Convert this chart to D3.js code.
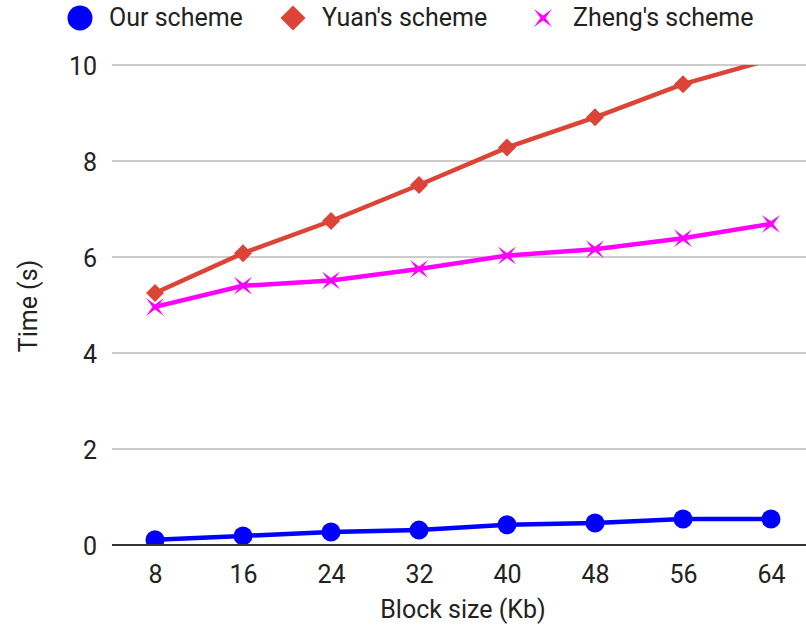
<!DOCTYPE html>
<html>
<head>
<meta charset="utf-8">
<script src="https://cdnjs.cloudflare.com/ajax/libs/d3/7.8.5/d3.min.js"></script>
<style>
  html, body { margin: 0; padding: 0; background: #fff; }
  svg { display: block; font-family: Roboto, "Noto Sans", sans-serif; }
</style>
</head>
<body>
<svg id="chart" width="806" height="632"></svg>
<script>
// Block sizes (Kb) on the x axis
const blockSizes = ["8", "16", "24", "32", "40", "48", "56", "64"];
// Computation time (s) for each scheme
const ourScheme   = [0.11, 0.19, 0.27, 0.31, 0.42, 0.46, 0.54, 0.54];
const yuanScheme  = [5.25, 6.08, 6.75, 7.50, 8.28, 8.91, 9.60, 10.12];
const zhengScheme = [4.96, 5.40, 5.51, 5.75, 6.03, 6.16, 6.39, 6.69];
const yTicks = [0, 2, 4, 6, 8, 10];

const seriesNames  = ["Our scheme", "Yuan's scheme", "Zheng's scheme"];
const seriesColors = ["#0000ff", "#db4437", "#ff00ff"];
const seriesShapes = ["circle", "diamond", "star"];
const seriesValues = [ourScheme, yuanScheme, zhengScheme];

const series = seriesNames.map((name, i) => ({
  name, color: seriesColors[i], shape: seriesShapes[i], values: seriesValues[i]
}));

const FONT = 25;
const svg = d3.select("#chart");
const plot = { left: 112, right: 806, top: 65, bottom: 545 };

const x = d3.scalePoint().domain(blockSizes).range([155, 771]);
const y = d3.scaleLinear().domain([0, 10]).range([plot.bottom, plot.top]);

// Marker path generators
function markerPath(shape, s) {
  if (shape === "circle") {
    return d3.symbol().type(d3.symbolCircle).size(Math.PI * s * s)();
  }
  if (shape === "diamond") {
    return `M0,${-s}L${s},0L0,${s}L${-s},0Z`;
  }
  // four-pointed star with its tips on the diagonals
  const pts = [];
  const inner = s * 0.28;
  for (let k = 0; k < 8; k++) {
    const a = Math.PI / 4 + k * Math.PI / 4;
    const r = k % 2 === 0 ? s * Math.SQRT2 : inner;
    pts.push([r * Math.cos(a), r * Math.sin(a)]);
  }
  return "M" + pts.map(p => p.join(",")).join("L") + "Z";
}

// Clip area for lines and markers
svg.append("defs").append("clipPath").attr("id", "plotClip")
  .append("rect")
  .attr("x", plot.left).attr("y", plot.top)
  .attr("width", plot.right - plot.left)
  .attr("height", plot.bottom - plot.top);

// Horizontal gridlines
svg.append("g")
  .selectAll("line")
  .data(yTicks.filter(t => t !== 0))
  .join("line")
  .attr("x1", plot.left).attr("x2", plot.right)
  .attr("y1", d => y(d)).attr("y2", d => y(d))
  .attr("stroke", "#cccccc").attr("stroke-width", 2);

// Y axis tick labels
const yAxis = d3.axisLeft(y).tickValues(yTicks).tickSize(0).tickPadding(0);
const gy = svg.append("g").attr("transform", `translate(97,0)`).call(yAxis);
gy.select(".domain").remove();
gy.selectAll("text")
  .attr("font-size", FONT).attr("fill", "#222")
  .attr("font-family", "Roboto, sans-serif")
  .attr("dy", "0.36em");

// X axis tick labels
const xAxis = d3.axisBottom(x).tickSize(0).tickPadding(0);
const gx = svg.append("g").attr("transform", `translate(0,565)`).call(xAxis);
gx.select(".domain").remove();
gx.selectAll("text")
  .attr("font-size", FONT).attr("fill", "#222")
  .attr("font-family", "Roboto, sans-serif")
  .attr("dy", "0.71em");

// Series lines and markers
const lineGen = (vals) => d3.line()
  .x((d, i) => x(blockSizes[i]))
  .y(d => y(d))(vals);

const layer = svg.append("g").attr("clip-path", "url(#plotClip)");

// draw Zheng's, Yuan's, then ours on top
[2, 1, 0].forEach(si => {
  const s = series[si];
  layer.append("path")
    .attr("d", lineGen(s.values))
    .attr("fill", "none")
    .attr("stroke", s.color)
    .attr("stroke-width", 4.5)
    .attr("stroke-linejoin", "round");
  layer.append("g")
    .selectAll("path")
    .data(s.values.map((v, i) => ({ v, k: blockSizes[i] })).filter(d => d.v <= 10))
    .join("path")
    .attr("transform", d => `translate(${x(d.k)},${y(d.v)})`)
    .attr("d", markerPath(s.shape, s.shape === "circle" ? 9.5 : 9))
    .attr("fill", s.color);
});

// Zero baseline
svg.append("line")
  .attr("x1", plot.left).attr("x2", plot.right)
  .attr("y1", y(0)).attr("y2", y(0))
  .attr("stroke", "#333333").attr("stroke-width", 2);

// Axis titles
svg.append("text")
  .attr("x", 463).attr("y", 611)
  .attr("text-anchor", "middle").attr("dominant-baseline", "middle")
  .attr("font-size", FONT).attr("fill", "#222")
  .text("Block size (Kb)");

svg.append("text")
  .attr("transform", "translate(30,306) rotate(-90)")
  .attr("text-anchor", "middle").attr("dominant-baseline", "middle")
  .attr("font-size", FONT).attr("fill", "#222")
  .text("Time (s)");

// Legend
const legendX = [80, 293, 543];
const legendSize = [12.5, 12.5, 9];
const legend = svg.append("g");
series.forEach((s, i) => {
  legend.append("path")
    .attr("transform", `translate(${legendX[i]},18)`)
    .attr("d", markerPath(s.shape, legendSize[i]))
    .attr("fill", s.color);
  legend.append("text")
    .attr("x", legendX[i] + (i === 2 ? 30 : 29))
    .attr("y", 19)
    .attr("dominant-baseline", "middle")
    .attr("font-size", FONT).attr("fill", "#222")
    .text(s.name);
});
</script>
</body>
</html>
